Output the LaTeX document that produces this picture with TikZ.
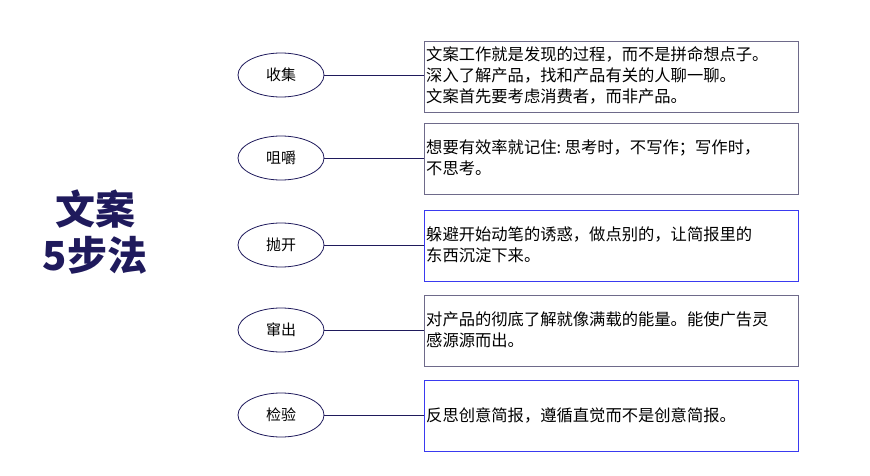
\documentclass[tikz,border=0pt]{standalone}
\usepackage{fontspec}
\usetikzlibrary{shapes.geometric}
\setmainfont{Noto Sans CJK SC}
\definecolor{navy}{HTML}{1F1A5C}
\definecolor{gbox}{HTML}{6E6A8A}
\definecolor{bbox}{HTML}{3A3AF0}
\begin{document}
\begin{tikzpicture}[x=1pt,y=-1pt,
  ell/.style={draw=navy,thick,ellipse,minimum width=86pt,minimum height=44pt,inner sep=0pt,font=\fontsize{15}{17}\selectfont},
  txt/.style={draw=#1,thick,minimum width=374pt,minimum height=71pt,anchor=north west},
  inner/.style={anchor=west,align=left,inner sep=0pt,font=\fontsize{16.3}{21}\selectfont},
  conn/.style={draw=navy,semithick}]
\useasboundingbox (0,0) rectangle (870,476);
\node[font=\bfseries\fontsize{40}{46}\selectfont,text=navy,align=center] (title) at (95,232) {文案\\5步法};
\foreach \i/\y/\yb/\c/\lab/\t in {
 1/75/41/gbox/收集/{文案工作就是发现的过程，而不是拼命想点子。\\深入了解产品，找和产品有关的人聊一聊。\\文案首先要考虑消费者，而非产品。},
 2/158/123/gbox/咀嚼/{想要有效率就记住:\ 思考时，不写作；写作时，\\不思考。},
 3/245/210/bbox/抛开/{躲避开始动笔的诱惑，做点别的，让简报里的\\东西沉淀下来。},
 4/330/295/gbox/窜出/{对产品的彻底了解就像满载的能量。能使广告灵\\感源源而出。},
 5/415/380/bbox/检验/{反思创意简报，遵循直觉而不是创意简报。}}{
  \node[ell] (e\i) at (281,\y) {\lab};
  \node[txt=\c] (b\i) at (424,\yb) {};
  \node[inner] (t\i) at (426,\y) {\t};
  \draw[conn] (e\i.east) -- (e\i.east -| b\i.west);
}
\end{tikzpicture}
\end{document}
